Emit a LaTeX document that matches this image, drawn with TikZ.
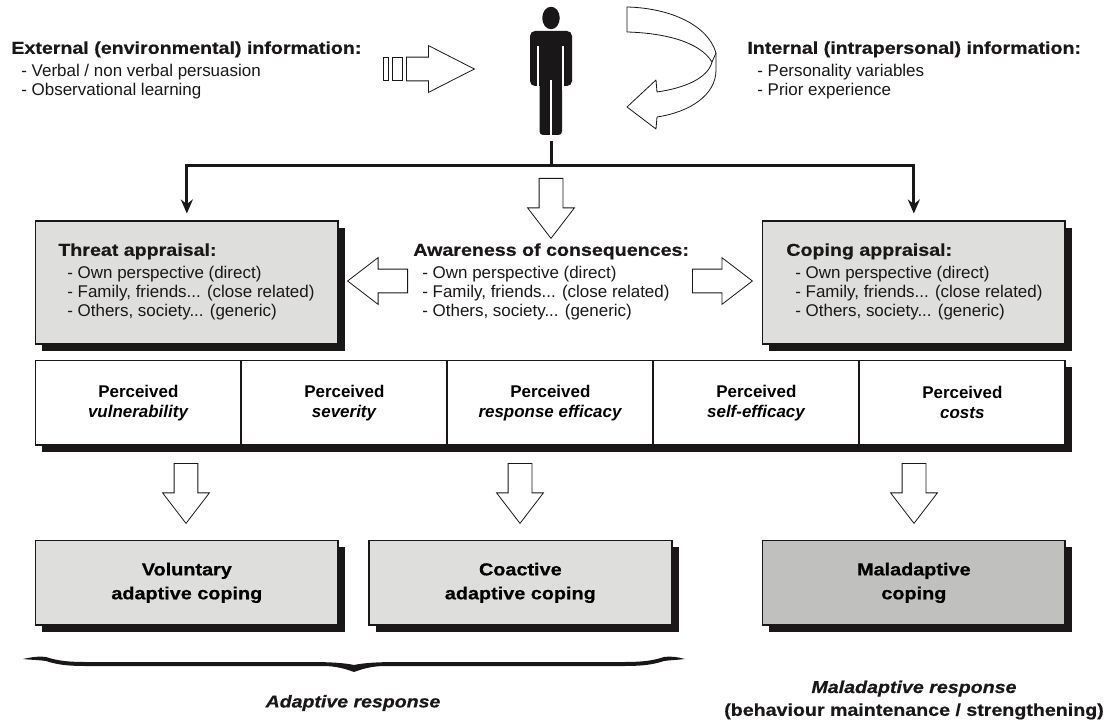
\documentclass[tikz,border=0pt]{standalone}
\usepackage{fontspec}
\usepackage{xcolor}
\usetikzlibrary{arrows.meta,shadows,shapes.arrows}
\setmainfont{Liberation Sans}
\newfontfamily\widefont[FakeStretch=1.14,FakeBold=0.6]{Liberation Sans}
\newcommand{\wide}{\widefont\bfseries}
\newcommand{\widei}{\widefont\bfseries\itshape}
\newcommand{\infohead}[1]{{\fontsize{9.8}{10.8}\selectfont\wide #1}}

\begin{document}
\begin{tikzpicture}[x=0.02cm,y=-0.02cm,
  infotext/.style={anchor=north west,inner sep=0,align=left,font=\fontsize{9.65}{10.8}\selectfont,text=inkblack},
  apprbox/.style={rectangle,draw=inkblack,line width=0.035cm,fill=boxgrey,minimum width=6.06cm,inner sep=0,
    drop shadow={shadow xshift=0.14cm,shadow yshift=-0.14cm,opacity=1,fill=inkblack}},
  cellbox/.style={apprbox,fill=white,minimum width=4.12cm,minimum height=1.7cm,anchor=north west,align=center,font=\fontsize{9.65}{11.4}\selectfont\bfseries},
  copebox/.style={apprbox,minimum height=1.7cm,anchor=north west,align=center,font=\fontsize{9.9}{13.6}\selectfont\wide},
  blockarrow/.style={single arrow,draw=inkblack,line width=0.016cm,fill=white,inner xsep=0,inner ysep=0.23cm,
    single arrow head extend=0.23cm,single arrow head indent=0,single arrow tip angle=75,minimum height=1.2cm},
  linkline/.style={draw=inkblack,line width=0.06cm}]
\definecolor{inkblack}{HTML}{1A1718}
\definecolor{boxgrey}{HTML}{DEDEDC}
\definecolor{darkgrey}{HTML}{C0C0BE}
\useasboundingbox (0,0) rectangle (1107,723);

% person
\fill[inkblack] (551,18) ellipse [x radius=0.175cm,y radius=0.225cm];
\fill[inkblack,rounded corners=0.1cm] (530,86) -- (530,31) -- (572,31) -- (572,86) -- cycle;
\fill[inkblack,rounded corners=0.07cm] (539.5,70) -- (539.5,135) -- (562,135) -- (562,70) -- cycle;
\draw[white,line width=0.04cm] (538.4,46) -- (538.4,90) (563.4,46) -- (563.4,90) (550.7,80) -- (550.7,136);

% incoming information
\node[infotext] (external) at (11,41) {\infohead{External (environmental) information:}\\[2pt]
  \hspace{0.2cm}- Verbal / non verbal persuasion\\\hspace{0.2cm}- Observational learning};
\node[infotext] (internal) at (747,41) {\infohead{Internal (intrapersonal) information:}\\[2pt]
  \hspace{0.2cm}- Personality variables\\\hspace{0.2cm}- Prior experience};
\node[blockarrow,anchor=tail,minimum height=1.36cm,single arrow tip angle=54] (extarrow) at (406,69) {};
\draw[inkblack,line width=0.016cm,fill=white] (383,57.5) rectangle (388,80.5) (392,57.5) rectangle (402,80.5);
\draw[inkblack,line width=0.016cm,fill=white,line join=round]
  (627,7) .. controls (670,8) and (708,25) .. (716,53) -- (716,70) .. controls (716,95) and (690,112) .. (657,117)
  -- (656,129) -- (627,107) -- (656,80) -- (657,92) .. controls (685,88) and (708,78) .. (712,62)
  .. controls (700,42) and (665,33) .. (627,32) -- cycle;
\draw[inkblack,line width=0.016cm] (712,62) -- (716,53);

% appraisal row
\node[apprbox,anchor=north west,minimum height=2.46cm] (threat) at (34.5,220.5) {};
\node[apprbox,anchor=north west,minimum height=2.46cm] (coping) at (761.5,220.5) {};
\node[infotext] (threattxt) at (58,243) {\infohead{Threat appraisal:}\\[2pt]
  \hspace{0.18cm}- Own perspective (direct)\\\hspace{0.18cm}- Family, friends... (close related)\\\hspace{0.18cm}- Others, society... (generic)};
\node[infotext] (awaretxt) at (413,243) {\infohead{Awareness of consequences:}\\[2pt]
  \hspace{0.18cm}- Own perspective (direct)\\\hspace{0.18cm}- Family, friends... (close related)\\\hspace{0.18cm}- Others, society... (generic)};
\node[infotext] (copingtxt) at (786,243) {\infohead{Coping appraisal:}\\[2pt]
  \hspace{0.18cm}- Own perspective (direct)\\\hspace{0.18cm}- Family, friends... (close related)\\\hspace{0.18cm}- Others, society... (generic)};
\node[blockarrow,anchor=tail,rotate=180] (awareleft) at (408,281) {};
\node[blockarrow,anchor=tail] (awareright) at (692,281) {};

% links from the person
\coordinate (stem) at (551,141);
\coordinate (junction) at (551,166);
\draw[linkline] (stem) -- (junction);
\draw[linkline,-{Stealth[length=0.28cm,width=0.24cm]},shorten >=0.14cm] (junction) -| (threat.north);
\draw[linkline,-{Stealth[length=0.28cm,width=0.24cm]},shorten >=0.14cm] (junction) -| (coping.north);
\node[blockarrow,anchor=tail,rotate=-90] (awarearrow) at (551,178) {};

% perceived cells
\foreach \cname/\ctext/\xpos in {vulner/vulnerability/34.5,sever/severity/240.5,respeff/response efficacy/446.5,selfeff/self-efficacy/652.5,costs/costs/858.5}
  {\node[cellbox] (\cname) at (\xpos,359.5) {Perceived\\\textit{\ctext}};}

% outcomes
\foreach \aname/\apos in {arrowvol/186,arrowcoa/520,arrowmal/914}
  {\node[blockarrow,anchor=tail,rotate=-90] (\aname) at (\apos,463) {};}
\node[copebox] (voluntary) at (34.5,539.5) {Voluntary\\adaptive coping};
\node[copebox] (coactive) at (368,539.5) {Coactive\\adaptive coping};
\node[copebox,fill=darkgrey] (maladaptive) at (761.5,539.5) {Maladaptive\\coping};

% brace
\fill[inkblack] (23,659) .. controls (32,657) and (40,656) .. (46,657) .. controls (55,660) and (65,662) .. (85,662)
  -- (310,662) .. controls (330,662) and (345,663) .. (354,665) .. controls (363,663) and (378,662) .. (398,662)
  -- (625,662) .. controls (645,662) and (655,660) .. (664,657) .. controls (670,656) and (678,657) .. (685,659)
  .. controls (678,660) and (670,660) .. (664,661) .. controls (655,664) and (645,666) .. (625,666)
  -- (385,666) .. controls (372,666) and (362,669) .. (354,672) .. controls (346,669) and (336,666) .. (323,666)
  -- (85,666) .. controls (65,666) and (55,664) .. (46,661) .. controls (40,660) and (32,660) .. (23,659) -- cycle;

\node[inner sep=0,font=\fontsize{9.75}{11}\selectfont\widei,text=inkblack] (adaptive) at (353,703) {Adaptive response};
\node[inner sep=0,align=center,font=\fontsize{9.8}{13}\selectfont\wide,text=inkblack] (malresponse) at (914,700)
  {{\itshape Maladaptive response}\\(behaviour maintenance / strengthening)};
\end{tikzpicture}
\end{document}
